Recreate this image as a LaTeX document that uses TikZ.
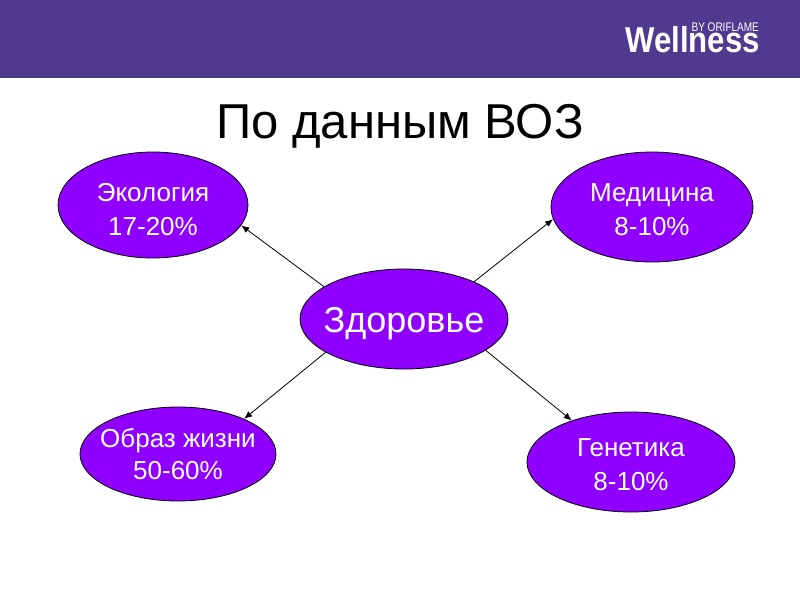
\documentclass[tikz,border=0pt]{standalone}
\usepackage{fontspec}
\setmainfont{Liberation Sans}
\usepackage{tikz}
\usetikzlibrary{shapes.geometric,arrows.meta}

\definecolor{bandcol}{RGB}{79,58,143}
\definecolor{ovalcol}{RGB}{144,0,255}

\newcommand{\dropline}[1]{\rule{0pt}{#1}}

\tikzset{
	oval/.style={ellipse,draw=black,line width=.8pt,fill=ovalcol,text=white,inner sep=-22pt,align=center,font=\fontsize{26}{34}\selectfont},
	link/.style={draw=black,line width=.8pt,-{Latex[length=8pt,width=6.5pt]}},
}

\begin{document}
\begin{tikzpicture}[x=1pt,y=-1pt]

	\useasboundingbox (0,0) rectangle (800,600);
	\fill[bandcol] (0,0) rectangle (800,78);

	\node[text=white,font=\bfseries\fontsize{36}{36}\selectfont,anchor=base east,inner sep=0pt,xscale=.865,transform shape] (wellness) at (760,52) {Wellness};
	\node[text=white,font=\fontsize{12.5}{13}\selectfont,anchor=base east,inner sep=0pt,xscale=.8,transform shape] (byline) at (759,31) {BY ORIFLAME};
	\node[font=\fontsize{49}{49}\selectfont,anchor=base,inner sep=0pt] (title) at (400,138) {По данным ВОЗ};

	\node[oval,minimum width=208pt,minimum height=100pt,font=\fontsize{36}{36}\selectfont] (health) at (404,319) {\dropline{33.5pt}Здоровье};
	\node[oval,minimum width=190pt,minimum height=106pt] (ecology) at (153,205) {\dropline{28pt}Экология\\17-20\%};
	\node[oval,minimum width=202pt,minimum height=110pt] (medicine) at (652,207) {\dropline{24pt}Медицина\\8-10\%};
	\node[oval,minimum width=196pt,minimum height=94pt] (lifestyle) at (178,454) {Образ жизни\\[-2pt]50-60\%};
	\node[oval,minimum width=208pt,minimum height=100pt] (genetics) at (631,462) {\dropline{24pt}Генетика\\8-10\%};

	\draw[link] (health.158) -- (ecology.-13);
	\draw[link] (health.28) -- (medicine.187);
	\draw[link] (health.203) -- (lifestyle.28);
	\draw[link] (health.-21) -- (genetics.145);

\end{tikzpicture}
\end{document}
